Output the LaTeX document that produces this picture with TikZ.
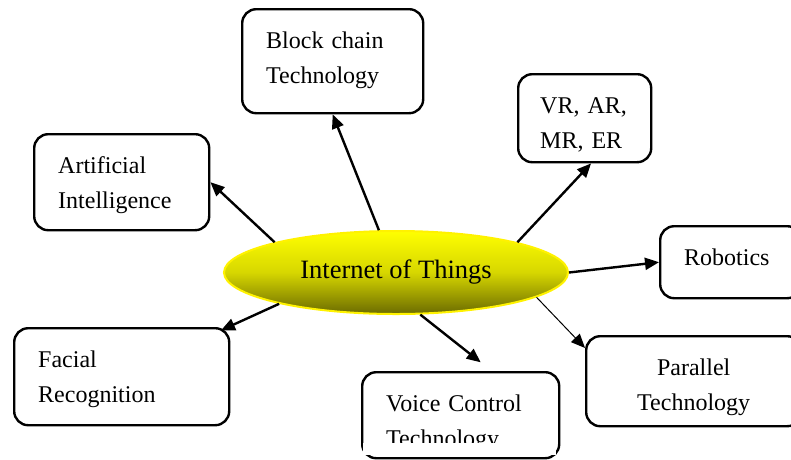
\documentclass[tikz,border=0pt]{standalone}
\usepackage{fontspec}
\setmainfont{Liberation Serif}
\usetikzlibrary{arrows.meta,shapes.geometric}

\begin{document}
\begin{tikzpicture}[x=1pt,y=-1pt,
  box/.style={draw,rounded corners=14pt,line width=2.4pt,inner xsep=24pt,inner ysep=0pt,
    align=left,anchor=north west,text height=39pt,font=\fontsize{24}{35}\selectfont},
  arr/.style={line width=2.4pt,-{Triangle[length=14pt,width=12pt]}}]
\clip (0,0) rectangle (791,459);
\node[ellipse,draw=yellow,line width=2pt,top color=yellow,bottom color=yellow!42!black,
  middle color=yellow!84!black,minimum width=344pt,minimum height=83pt,inner sep=0pt,
  font=\fontsize{26.5}{30}\selectfont] (iot) at (396,272.5) {Internet of Things};
\node[box,text width=133pt,text depth=65pt] (bc) at (241,8) {Block chain\\Technology};
\node[box,text width=127pt,text depth=57pt] (ai) at (33,133) {Artificial\\Intelligence};
\node[box,inner xsep=22pt,text width=89pt,text depth=49pt] (vr) at (517,73) {VR, AR,\\MR, ER};
\node[box,text width=93pt,text depth=33pt] (rob) at (659,225) {Robotics};
\node[box,align=center,text width=167pt,text depth=51pt] (par) at (585,335) {Parallel\\Technology};
\node[box,text width=149pt,text depth=47pt] (vc) at (361,371) {Voice Control\\Technology};
\node[box,text width=167pt,text depth=58pt] (fr) at (13,327) {Facial\\Recognition};
\fill[white] (363,443) rectangle (556,455);
\foreach \a/\b/\s in {166/ai.east/0pt,112/bc.south/0pt,14/vr.-82/0pt,0/rob.west/0pt,-60/vc.55/14pt,195/fr.25/-8pt}
  \draw[arr,shorten >=\s] (iot.\a) -- (\b);
\draw[line width=1pt,-{Triangle[length=14pt,width=12pt]}] (iot.-10) -- (par.163);
\end{tikzpicture}
\end{document}
